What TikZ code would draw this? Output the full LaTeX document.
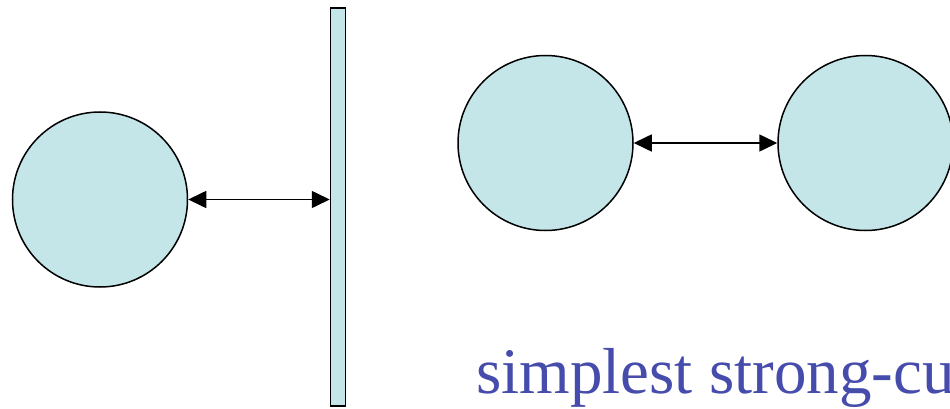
\documentclass[tikz,border=0pt]{standalone}
\usepackage{fontspec}
\setmainfont{Liberation Serif}
\usetikzlibrary{positioning, arrows.meta}
\definecolor{ballfill}{RGB}{196, 230, 233}
\definecolor{captionblue}{RGB}{70, 76, 172}

\tikzset{
  ball/.style={circle, draw=black, line width=1.5pt, fill=ballfill,
    minimum size=175pt, inner sep=0pt},
  wallbox/.style={rectangle, draw=black, line width=1.5pt, fill=ballfill,
    minimum width=15pt, minimum height=398pt, inner sep=0pt},
  link/.style={{Triangle[length=18pt, width=17pt]}-{Triangle[length=18pt, width=17pt]},
    line width=1.6pt}
}

\begin{document}
\begin{tikzpicture}[x=1pt, y=-1pt]
  \useasboundingbox (0,0) rectangle (950,409);
  \clip (0,0) rectangle (950,409);

  % Ball and wall
  \node[ball] (lball) at (100,199.5) {};
  \node[wallbox] (wall) at (338,207) {};
  \draw[link] (lball.east) -- (lball.east -| wall.west);

  % Two balls
  \node[ball] (mball) at (545.5,143) {};
  \node[ball] (rball) at (865.5,143) {};
  \draw[link] (mball) -- (rball);

  % Caption
  \node[anchor=base west, inner sep=0pt, font=\fontsize{65}{72}\selectfont,
        color=captionblue] (caption) at (476,393) {simplest strong-cur};
\end{tikzpicture}
\end{document}
